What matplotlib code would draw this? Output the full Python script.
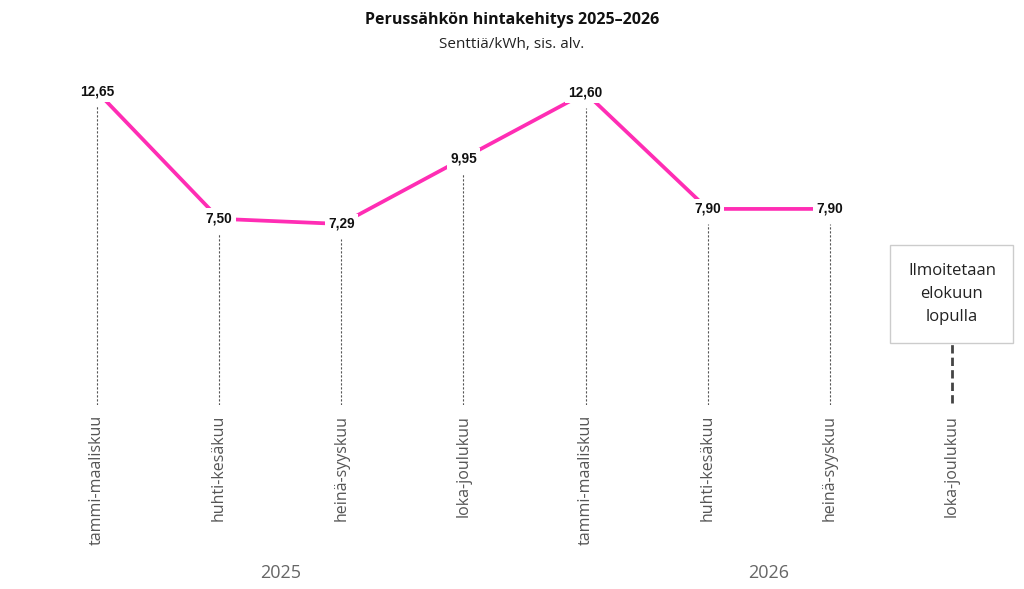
import matplotlib
matplotlib.use("Agg")
from matplotlib import pyplot as plt
import numpy as np

# kvartaalit ja hinnat (snt/kWh)
quarters = ['tammi-maaliskuu', 'huhti-kesäkuu', 'heinä-syyskuu', 'loka-joulukuu',
            'tammi-maaliskuu', 'huhti-kesäkuu', 'heinä-syyskuu', 'loka-joulukuu']
prices = [12.65, 7.50, 7.29, 9.95, 12.60, 7.90, 7.90]
years = ['2025', '2026']
pending_text = 'Ilmoitetaan\nelokuun\nlopulla'

pink = '#ff2db4'
grey = '#555555'
font = ['Open Sans', 'DejaVu Sans']
ybot = -0.04

fig = plt.figure(figsize=(10.24, 5.89), dpi=100)
ax = fig.add_axes([0, 1 - 405 / 589, 1, (405 - 60) / 589])
ax.set_xlim(-0.794, 7.59)
ax.set_ylim(ybot, 13.93)
for s in ax.spines.values():
    s.set_visible(False)
ax.set_yticks([])

x = np.arange(len(quarters))
xp = x[:len(prices)]

ax.plot(xp, prices, color=pink, lw=2.7, solid_capstyle='butt', zorder=2)
for xi, v in zip(xp, prices):
    ax.text(xi, v, f'{v:.2f}'.replace('.', ','), ha='center', va='center',
            fontsize=9.8, fontweight='bold', family='Liberation Sans', color='#111111',
            bbox=dict(boxstyle='square,pad=0.25', fc='white', ec='none'), zorder=3)
    ax.vlines(xi, ybot, v - 0.6, colors=grey, lw=0.8, linestyles=(0, (2, 1.6)), zorder=1)

# viimeinen kvartaali: ei vielä hintaa
ax.vlines(x[-1], 0.05, 2.45, colors='#444444', lw=2, linestyles=(0, (3, 1.5)))
ax.text(x[-1], 4.46, pending_text, ha='center', va='center', fontsize=12,
        family=font, color='#222222', linespacing=1.6,
        bbox=dict(boxstyle='square,pad=1.05', fc='white', ec='#cccccc', lw=1))

ax.set_xticks(x)
ax.set_xticklabels(quarters, rotation=90, fontsize=11.5, family=font, color=grey)
ax.tick_params(axis='x', length=0, pad=7)

ax.text(1.5, -6.84, years[0], ha='center', va='center', fontsize=13, family=font, color='#666666')
ax.text(5.5, -6.84, years[1], ha='center', va='center', fontsize=13, family=font, color='#666666')

fig.text(0.5, 1 - 20 / 589, 'Perussähkön hintakehitys 2025–2026', ha='center', va='center',
         fontsize=11.5, fontweight='bold', family=font, color='#111111')
fig.text(0.5, 1 - 44 / 589, 'Senttiä/kWh, sis. alv.', ha='center', va='center',
         fontsize=11, family=font, color='#222222')

fig.savefig('out.png', dpi=100)
